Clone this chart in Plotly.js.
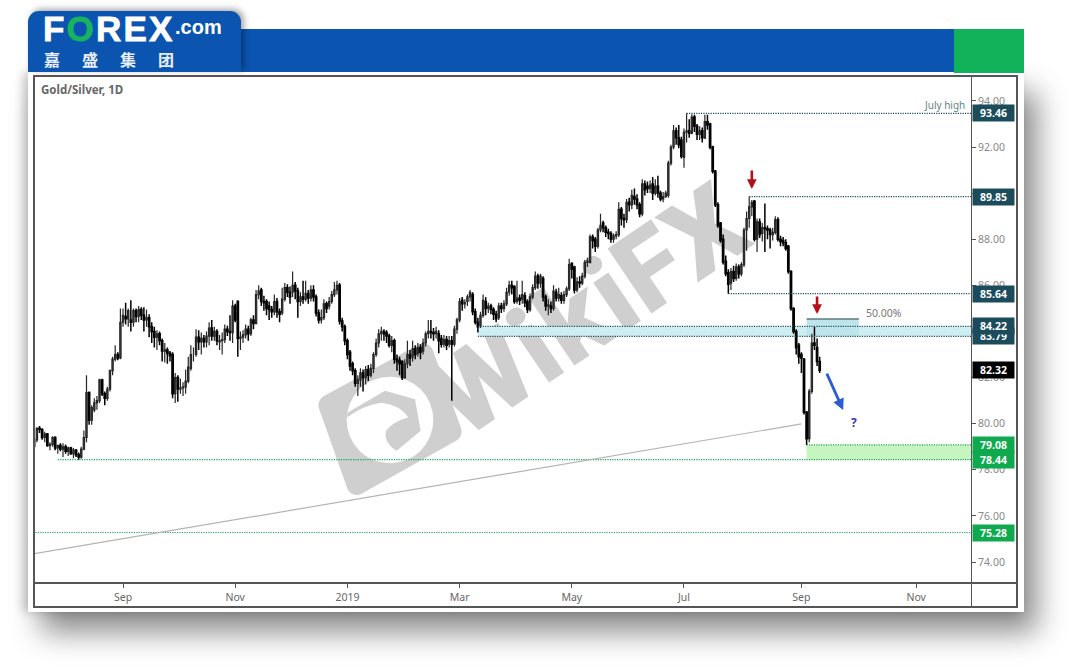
<!DOCTYPE html>
<html><head><meta charset="utf-8">
<script src="https://cdn.plot.ly/plotly-3.0.1.min.js"></script>
<style>
html,body{margin:0;padding:0;background:#fff;width:1080px;height:669px;overflow:hidden}
#stage{position:relative;width:1080px;height:669px;overflow:hidden}
#stage>*{position:absolute}
#panel{left:28px;top:72px;width:996px;height:540px;background:#fff;box-shadow:13px 20px 28px rgba(0,0,0,.46),-5px 0 9px rgba(0,0,0,.2)}
#bar{left:28px;top:29px;width:926px;height:43px;background:#0b55b1}
#greenbar{left:954px;top:29px;width:70px;height:44px;background:#12b25a}
#tab{left:28px;top:11px;width:213px;height:61px;background:#0b55b1;border-radius:11px 11px 0 0;box-shadow:3px -2px 6px rgba(0,0,0,.35)}
#frame{left:33px;top:75px;width:985px;height:533px;box-sizing:border-box;border:2px solid #555}
#axisH{left:33px;top:582px;width:985px;height:2px;background:#555}
#axisV{left:971px;top:76px;width:1px;height:532px;background:#555}
#chart{left:0;top:0;width:1080px;height:669px}
#wm{left:0;top:0;width:1080px;height:669px}
.logo{color:#fff;font-family:"Liberation Sans",Arial,sans-serif;font-weight:bold;white-space:nowrap;line-height:1}
.cn{color:#e8eefa;font-family:"Noto Sans CJK SC";font-weight:700;font-size:16px;line-height:1;top:51px}
</style></head><body>
<div id="stage">
<div id="panel"></div><div id="bar"></div><div id="greenbar"></div><div id="tab"></div>
<div class="logo" style="left:43px;top:11px;font-size:35px;letter-spacing:2.2px;-webkit-text-stroke:.8px #fff">F<span style="color:#17b35f;-webkit-text-stroke:.8px #17b35f">O</span>REX</div>
<div class="logo" style="left:175px;top:17px;font-size:20px">.com</div>
<div class="cn" style="left:44px">嘉</div><div class="cn" style="left:82px">盛</div><div class="cn" style="left:120px">集</div><div class="cn" style="left:158px">团</div>
<svg id="wm" viewBox="0 0 1080 669">
 <g transform="translate(300,360) scale(.3333)">
  <polygon points="85,135 370,-20 455,215 170,375" fill="#cfcfcf" stroke="#cfcfcf" stroke-width="60" stroke-linejoin="round"/>
  <circle cx="270" cy="180" r="130" fill="#fff"/>
  <path d="M142,158 L255,92 L345,118 L362,212 L290,272 Q250,248 258,212 Q278,186 325,172 Q300,135 245,128 Q190,135 142,172 Z" fill="#cfcfcf"/>
 </g>
 <text x="464" y="440" transform="rotate(-34 464 440)" font-family="Roboto, 'Liberation Sans'" font-weight="900" font-size="110" fill="#cfcfcf" letter-spacing="1">WikiFX</text>
</svg>
<div id="chart"></div>
<div id="axisH"></div><div id="axisV"></div>
<div id="frame"></div>
</div>
<script>
const firstBar='2018-07-17';
const opens=[79.0,79.3,79.8,79.75,79.4,79.55,79.05,79.1,79.4,78.95,
79.05,78.9,79.0,78.8,78.95,78.7,78.85,78.65,78.55,78.9,
79.4,81.35,80.15,80.6,80.9,81.0,81.9,81.3,81.1,81.5,
82.3,82.8,83.0,82.85,84.4,84.65,84.55,84.5,84.4,84.9,
84.65,84.95,84.7,84.5,84.6,84.2,84.0,83.75,83.9,83.6,
83.15,83.2,83.05,83.0,81.3,82.0,81.5,81.55,81.6,81.85,
82.4,83.0,83.0,83.75,83.55,83.7,83.55,83.8,84.15,83.8,
84.0,83.55,83.6,83.65,84.1,84.0,83.95,85.1,85.3,83.7,
83.75,83.85,84.1,83.9,84.5,84.35,85.6,85.8,85.3,85.3,
85.1,84.95,84.85,85.3,84.85,84.8,85.4,85.9,85.7,85.7,
86.0,85.75,85.3,85.5,85.4,85.65,85.45,85.8,85.5,84.8,
84.5,84.6,85.2,85.1,85.3,85.6,85.8,86.0,84.45,84.2,
83.6,83.1,82.6,82.3,81.75,81.9,82.2,82.0,82.35,82.1,
82.4,83.0,83.5,83.9,84.0,83.95,83.8,83.4,83.6,82.8,
82.75,82.7,82.0,82.6,83.0,82.9,83.25,83.05,83.3,83.15,
83.5,83.9,84.0,83.95,83.9,83.9,83.7,83.45,83.65,83.45,
83.6,83.45,84.1,84.5,85.35,85.2,85.3,85.5,85.6,84.85,
84.4,84.25,84.7,85.3,85.0,85.1,84.95,84.75,84.6,85.1,
85.0,85.2,85.7,86.0,85.95,85.3,85.45,85.4,85.55,85.3,
84.95,85.5,85.9,86.4,86.1,86.3,85.5,85.1,85.1,85.0,
85.7,85.45,85.55,85.35,85.6,85.85,86.95,86.8,85.8,86.15,
86.1,86.4,87.0,87.0,88.1,88.0,87.7,88.4,88.7,88.5,
88.3,88.25,88.0,88.15,88.2,89.3,88.9,88.85,89.6,89.5,
89.85,89.75,89.5,89.1,90.4,90.3,90.2,90.4,90.0,90.3,
90.0,89.75,89.85,89.9,91.3,92.0,92.7,92.4,92.3,91.55,
92.65,92.7,92.6,93.3,92.9,92.55,92.7,92.4,93.1,93.0,
92.0,90.95,89.5,88.7,88.0,87.05,86.55,86.1,86.6,86.3,
86.8,86.5,86.9,88.4,88.9,89.4,89.65,88.0,88.75,88.25,
88.5,88.45,88.4,88.2,88.3,88.85,88.0,87.95,87.85,87.7,
86.6,85.0,84.0,83.4,83.0,82.8,80.5,79.35,81.4,83.5,
83.3,82.7];
const highs=[79.4,79.85,79.9,79.8,79.65,79.6,79.2,79.45,79.45,79.1,
79.15,79.15,79.1,79.0,79.0,78.95,78.9,78.75,79.0,79.7,
82.1,81.4,80.8,81.1,81.2,81.95,81.95,81.4,81.6,82.35,
82.9,83.4,83.1,85.0,85.0,85.25,85.0,85.35,85.0,85.0,
85.1,85.05,85.05,84.95,84.75,84.4,84.2,84.05,84.0,83.7,
83.5,83.3,83.15,83.1,82.2,82.1,81.95,81.8,82.35,82.9,
83.4,83.3,84.1,84.05,83.95,83.85,84.0,84.4,84.5,84.2,
84.1,83.85,83.95,84.3,84.25,84.7,85.35,85.2,85.35,84.0,
84.05,84.3,84.25,84.6,84.7,85.8,86.0,85.9,85.55,85.4,
85.3,85.1,85.6,85.45,85.0,85.9,86.1,86.05,85.95,86.6,
86.15,85.9,85.7,86.2,86.2,85.8,86.0,86.0,85.6,84.95,
84.95,85.4,85.3,85.5,85.75,86.15,86.2,86.1,84.6,84.3,
83.7,83.2,82.7,82.4,82.1,82.4,82.35,82.5,82.55,82.6,
83.1,83.7,84.1,84.2,84.1,84.05,83.9,83.8,83.7,83.0,
82.9,82.75,82.8,83.6,83.2,83.6,83.4,83.5,83.45,83.7,
84.0,84.5,84.5,84.15,84.2,84.05,83.85,83.85,83.8,83.8,
83.8,84.25,84.6,85.45,85.5,85.4,85.6,85.8,85.7,85.0,
84.6,84.85,85.6,85.5,85.25,85.2,85.05,84.9,85.25,85.25,
85.35,85.9,86.2,86.2,86.0,86.2,85.6,86.2,85.7,85.4,
85.65,86.05,86.6,86.5,86.5,86.4,85.6,85.4,85.3,86.0,
85.85,85.9,85.7,85.75,85.95,87.15,87.0,86.85,86.35,86.4,
86.55,87.1,87.2,88.2,88.2,88.1,88.5,89.1,88.8,88.6,
88.45,88.35,88.25,88.35,89.6,89.4,89.1,89.75,89.8,90.15,
90.2,89.95,89.6,90.6,90.55,90.5,90.55,90.7,90.6,90.75,
90.1,90.05,90.1,91.4,92.1,92.95,92.85,92.95,92.45,92.8,
93.46,93.2,93.42,93.4,93.0,92.9,92.85,93.4,93.4,93.05,
92.05,91.0,89.6,88.75,88.2,87.3,86.7,86.75,86.85,86.95,
86.9,87.0,88.5,89.2,89.85,89.7,89.7,88.9,88.9,88.7,
89.55,88.6,88.5,88.5,89.0,88.95,88.15,88.1,88.0,87.75,
86.65,85.05,84.1,83.5,83.1,82.85,80.55,81.5,83.9,84.2,
83.7,82.9];
const lows=[78.7,79.2,79.6,79.3,79.2,79.0,78.85,79.0,78.85,78.7,
78.8,78.55,78.7,78.6,78.65,78.5,78.55,78.44,78.48,78.85,
79.2,79.95,79.95,80.5,80.6,80.9,81.2,80.8,81.0,81.4,
82.1,82.7,82.75,82.8,84.2,84.3,84.2,84.0,84.2,84.4,
84.4,84.5,84.0,84.2,83.75,83.5,83.3,83.2,83.4,82.7,
82.65,82.6,82.7,81.1,80.9,80.95,81.3,81.2,81.3,81.75,
82.3,82.7,82.9,83.2,83.0,83.3,83.3,83.4,83.6,83.6,
83.4,83.2,83.0,83.5,83.8,83.6,83.5,84.4,82.9,83.2,
83.5,83.7,83.6,83.8,84.1,84.3,85.4,85.1,84.9,84.7,
84.5,84.6,84.7,84.6,84.4,84.7,85.3,85.5,85.2,85.5,
85.4,84.6,85.1,85.2,85.3,85.2,85.3,85.3,84.65,84.35,
84.35,84.5,84.8,84.95,85.2,85.5,85.6,84.3,84.0,83.4,
82.8,82.3,82.1,81.6,81.2,81.6,81.4,81.7,81.85,82.0,
82.2,82.9,83.3,83.6,83.6,83.5,83.3,83.1,82.6,82.3,
82.1,81.9,81.95,82.4,82.5,82.7,82.8,82.9,82.8,83.0,
83.35,83.7,83.7,83.6,83.7,83.05,83.3,83.3,83.2,83.3,
81.0,83.35,83.9,84.4,84.9,85.0,85.1,85.3,84.7,84.3,
83.95,84.15,84.6,84.7,84.8,84.75,84.5,84.4,84.5,84.8,
84.85,85.1,85.55,85.6,85.2,85.2,85.15,85.2,85.05,84.8,
84.85,85.4,85.8,85.85,85.9,85.3,84.9,84.7,84.8,84.9,
85.3,85.3,85.2,85.2,85.5,85.75,86.3,85.65,85.7,85.9,
86.0,86.3,86.8,86.95,87.6,87.45,87.6,88.3,88.3,88.1,
88.0,87.85,87.85,88.0,88.1,88.6,88.5,88.7,89.2,89.3,
89.5,89.3,88.95,89.0,89.9,90.0,90.0,89.7,89.9,89.8,
89.65,89.6,89.8,89.8,91.2,91.9,92.1,91.95,91.5,91.1,
92.2,92.4,92.55,92.65,92.3,92.3,92.2,92.35,92.75,91.9,
90.85,89.4,88.5,87.85,86.9,86.4,85.64,85.8,86.15,86.2,
86.3,86.4,86.8,87.5,88.5,89.0,87.9,87.45,88.05,87.9,
87.45,88.0,87.6,87.95,88.2,87.9,87.7,87.7,87.5,86.5,
84.9,83.9,83.0,82.6,82.2,80.4,79.08,79.2,81.3,83.2,
82.5,82.2];
const closes=[79.3,79.8,79.75,79.4,79.55,79.05,79.1,79.4,78.95,79.05,
78.9,79.0,78.8,78.95,78.7,78.85,78.65,78.55,78.9,79.4,
81.35,80.15,80.7,80.9,81.0,81.9,81.3,81.1,81.5,82.3,
82.8,83.0,82.85,84.4,84.7,84.55,84.9,84.4,84.9,84.65,
84.95,84.7,84.5,84.6,84.2,84.0,83.75,83.9,83.6,83.15,
83.2,83.05,82.95,81.3,82.0,81.5,81.55,81.6,81.85,82.45,
83.0,83.0,83.75,83.55,83.7,83.55,83.8,84.15,83.8,84.0,
83.6,83.6,83.65,84.1,84.0,83.95,85.1,84.5,83.7,83.75,
83.85,84.1,83.9,84.5,84.35,85.6,85.75,85.3,85.25,85.0,
84.95,84.85,85.3,84.85,84.75,85.4,85.9,85.7,85.5,86.0,
85.75,85.3,85.5,85.4,85.65,85.45,85.8,85.5,84.8,84.5,
84.6,85.2,85.0,85.3,85.6,85.8,86.0,84.45,84.2,83.6,
83.0,82.5,82.3,81.75,81.9,82.2,82.0,82.35,82.1,82.4,
83.0,83.5,83.9,84.0,83.9,83.8,83.4,83.6,82.8,82.7,
82.6,82.0,82.6,83.0,82.85,83.25,83.0,83.3,83.1,83.5,
83.9,84.0,83.95,83.9,84.0,83.6,83.45,83.65,83.4,83.6,
83.45,84.1,84.5,85.3,85.2,85.25,85.5,85.7,84.85,84.4,
84.2,84.7,85.35,85.0,85.1,84.95,84.75,84.55,85.1,85.0,
85.2,85.7,86.0,85.9,85.3,85.45,85.35,85.6,85.25,84.95,
85.5,85.9,86.4,86.1,86.4,85.5,85.1,85.15,85.0,85.75,
85.45,85.6,85.35,85.6,85.85,86.9,86.7,85.8,86.15,86.1,
86.4,87.0,87.05,88.1,87.95,87.7,88.4,88.6,88.5,88.3,
88.25,88.0,88.15,88.2,89.3,88.9,88.85,89.6,89.5,89.9,
89.75,89.5,89.1,90.4,90.15,90.2,90.35,90.0,90.3,90.0,
89.75,89.85,90.0,91.3,92.0,92.7,92.4,92.1,91.6,92.65,
92.7,92.6,93.3,92.9,92.55,92.7,92.4,93.1,92.95,92.0,
90.95,89.5,88.6,87.95,87.0,86.5,86.05,86.6,86.3,86.8,
86.5,86.9,88.4,88.9,89.4,89.6,88.0,88.75,88.2,88.5,
88.45,88.4,88.2,88.3,88.85,88.0,87.9,87.85,87.6,86.6,
85.0,84.0,83.3,82.9,82.85,80.5,79.35,81.4,83.5,83.4,
82.7,82.32];
const xStart='2018-07-16 12:00', xEnd='2019-12-02';
const tickDates=['2018-09-03','2018-11-01','2019-01-01','2019-03-01','2019-05-01','2019-07-01','2019-09-02','2019-11-01'];
const tickLabels=['Sep','Nov','2019','Mar','May','Jul','Sep','Nov'];
const priceTicks=[74,76,78,80,82,84,86,88,90,92,94];
const tealLevels=[93.46,89.85,85.64,84.22,83.79];
const tealStarts=['2019-07-02','2019-08-05','2019-07-24','2019-03-12','2019-03-12'];
const greenLevels=[79.08,78.44,75.28];
const greenStarts=['2019-09-04','2018-07-30',xStart];
const lastPrice=82.32;
const fibLevel=84.54, fibStart='2019-09-04', fibEnd='2019-10-02';
const trendDates=[xStart,'2019-09-02'], trendValues=[74.35,79.99];

const dates=[];
for(let d=new Date(firstBar+'T00:00:00Z');dates.length<opens.length;d=new Date(+d+864e5)){
  const w=d.getUTCDay(); if(w!==0&&w!==6) dates.push(d.toISOString().slice(0,10));
}
const FONT='"Noto Sans",sans-serif';
const TEAL='#1c4c5c', GREEN='#0fa94e', DOTS='1.2px,1.2px';
const traces=[];
tealLevels.forEach((v,i)=>traces.push({type:'scatter',mode:'lines',x:[tealStarts[i],xEnd],y:[v,v],hoverinfo:'skip',showlegend:false,line:{color:'#1f4e58',width:1.2,dash:DOTS}}));
greenLevels.forEach((v,i)=>traces.push({type:'scatter',mode:'lines',x:[greenStarts[i],xEnd],y:[v,v],hoverinfo:'skip',showlegend:false,line:{color:'#1aa55c',width:1.2,dash:DOTS}}));
traces.push({type:'scatter',mode:'lines',x:trendDates,y:trendValues,hoverinfo:'skip',showlegend:false,line:{color:'#b4b4b4',width:1.2}});
traces.push({type:'scatter',mode:'lines',x:[fibStart,fibEnd],y:[fibLevel,fibLevel],hoverinfo:'skip',showlegend:false,line:{color:'#5b7c7e',width:1.5}});
traces.push({type:'candlestick',x:dates,open:opens,high:highs,low:lows,close:closes,showlegend:false,whiskerwidth:0,
 increasing:{line:{color:'#262626',width:1.2},fillcolor:'#a0a0a0'},
 decreasing:{line:{color:'#000',width:1.5},fillcolor:'#000'}});

const shapes=[
 {type:'rect',xref:'x',yref:'y',x0:tealStarts[3],x1:xEnd,y0:tealLevels[4],y1:tealLevels[3],fillcolor:'#cdeef2',line:{width:0},layer:'below'},
 {type:'rect',xref:'x',yref:'y',x0:fibStart,x1:fibEnd,y0:tealLevels[4],y1:fibLevel,fillcolor:'#bde5eb',line:{width:0},layer:'below'},
 {type:'rect',xref:'x',yref:'y',x0:greenStarts[0],x1:xEnd,y0:greenLevels[1],y1:greenLevels[0],fillcolor:'#c6f5bf',line:{width:0},layer:'below'}
];
const tag=(v,bg)=>({xref:'paper',yref:'y',x:1.0015,y:v,xanchor:'left',yanchor:'middle',text:'<b>'+v.toFixed(2)+'</b>',showarrow:false,bgcolor:bg,width:41,height:16,align:'center',borderpad:0,font:{family:FONT,size:10.5,color:'#fff'}});
const arrow=(x,y,ax,ay,c,w,s)=>({x,y,xref:'x',yref:'y',ax,ay,axref:'pixel',ayref:'pixel',text:'',showarrow:true,arrowhead:2,arrowsize:s,arrowwidth:w,arrowcolor:c});
const annotations=[
 tag(83.79,TEAL),tag(84.22,TEAL),tag(93.46,TEAL),tag(89.85,TEAL),tag(85.64,TEAL),
 tag(79.08,GREEN),tag(78.44,GREEN),tag(75.28,GREEN),tag(lastPrice,'#000'),
 arrow('2019-08-06',90.18,0,-20,'#b3101c',2.6,.75),arrow('2019-09-10',84.76,0,-19,'#b3101c',2.6,.75),arrow('2019-09-24',80.59,-17,-38,'#2b5bd7',2.8,.8),
 {x:'2019-09-30',y:80.03,xref:'x',yref:'y',text:'<b>?</b>',showarrow:false,font:{family:FONT,size:12,color:'#3a35b5'}},
 {x:'2019-10-04',y:84.8,xref:'x',yref:'y',xanchor:'left',text:'50.00%',showarrow:false,font:{family:FONT,size:10.5,color:'#777'}},
 {x:.9957,y:93.83,xref:'paper',yref:'y',xanchor:'right',text:'July high',showarrow:false,font:{family:FONT,size:10,color:'#5f8485'}}
];
Plotly.newPlot('chart',traces,{
 width:1080,height:669,margin:{l:33,r:109,t:76,b:86,pad:0},
 paper_bgcolor:'rgba(0,0,0,0)',plot_bgcolor:'rgba(0,0,0,0)',showlegend:false,dragmode:false,
 title:{text:'<b>Gold/Silver, 1D</b>',x:41/1080,xref:'container',xanchor:'left',y:1-90/669,yref:'container',yanchor:'middle',font:{family:FONT,size:11.5,color:'#666'}},
 xaxis:{type:'date',range:[xStart,xEnd],rangebreaks:[{bounds:['sat','mon']}],rangeslider:{visible:false},
  tickmode:'array',tickvals:tickDates,ticktext:tickLabels,ticks:'outside',ticklen:4,tickcolor:'#555',tickwidth:1,
  tickfont:{family:FONT,size:10.5,color:'#666'},showgrid:false,zeroline:false,showline:false,fixedrange:true},
 yaxis:{side:'right',range:[73.09,95.08],tickmode:'array',tickvals:priceTicks,ticktext:priceTicks.map(v=>v.toFixed(2)),
  ticks:'outside',ticklen:4,tickcolor:'#555',tickwidth:1,tickfont:{family:FONT,size:10.5,color:'#888'},
  showgrid:false,zeroline:false,showline:false,fixedrange:true},
 shapes,annotations
},{displayModeBar:false,staticPlot:true});
</script></body></html>
